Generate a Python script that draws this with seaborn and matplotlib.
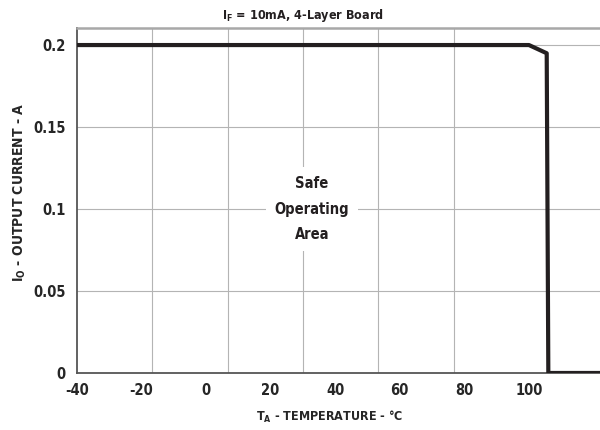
import numpy as np
import pandas as pd
import matplotlib
matplotlib.use('Agg')
import matplotlib.pyplot as plt
import seaborn as sns

# derating curve
temp_c = [-40, 100, 105.5, 106, 122]
current_a = [0.2, 0.2, 0.195, 0.0, 0.0]
x_labels = [-40, -20, 0, 20, 40, 60, 80, 100]
y_ticks = [0, 0.05, 0.1, 0.15, 0.2]
y_labels = ['0', '0.05', '0.1', '0.15', '0.2']

df = pd.DataFrame({'T': temp_c, 'I': current_a})

sns.set_style('white')
plt.rcParams['font.family'] = ['DejaVu Sans']
plt.rcParams['font.stretch'] = 'condensed'
plt.rcParams['font.weight'] = 'bold'

fig = plt.figure(figsize=(6, 4.3), dpi=100)
ax = fig.add_axes([0.128, 0.1326, 0.872, 0.8023])

sns.lineplot(data=df, x='T', y='I', ax=ax, color='#231f20', lw=3, sort=False, zorder=5)

ax.set_xlim(-40, 122)
ax.set_ylim(0, 0.2104)

# labels sit on the true positions, grid lines are spaced differently in the original
ax.set_xticks(x_labels)
ax.set_xticklabels([str(v) for v in x_labels])
ax.set_xticks(np.linspace(-40, 100, 7)[1:], minor=True)
ax.tick_params(axis='x', which='major', length=0, pad=7)
ax.tick_params(axis='x', which='minor', direction='in', length=3, color='#444444', width=1)
ax.set_yticks(y_ticks)
ax.set_yticklabels(y_labels)
ax.tick_params(axis='y', which='major', direction='in', length=4, color='#444444', width=1, pad=8)
ax.tick_params(labelsize=10.5)

ax.grid(True, which='minor', axis='x', color='#b4b4b4', lw=0.8)
ax.grid(True, which='major', axis='y', color='#b4b4b4', lw=0.8)

for side in ['left', 'bottom']:
    ax.spines[side].set_color('#555555')
    ax.spines[side].set_linewidth(1.3)
ax.spines['top'].set_color('#a8a8a8')
ax.spines['top'].set_linewidth(1.8)
ax.spines['right'].set_visible(False)

ax.text(0.432, 1.012, r'I$_\mathbf{F}$ = 10mA, 4-Layer Board', transform=ax.transAxes,
        ha='center', va='bottom', fontsize=9, fontweight='bold', color='#231f20')
ax.set_xlabel(r'T$_\mathbf{A}$ - TEMPERATURE - °C', fontsize=9, fontweight='bold', labelpad=9)
ax.xaxis.set_label_coords(0.484, -0.105)
ax.set_ylabel(r'I$_\mathbf{O}$ - OUTPUT CURRENT - A', fontsize=10, fontweight='bold')
ax.yaxis.set_label_coords(-0.094, 0.525)

ax.text(32.8, 0.1, 'Safe\nOperating\nArea', ha='center', va='center', fontsize=10.5,
        fontweight='bold', color='#231f20', linespacing=1.9, zorder=4,
        bbox=dict(facecolor='white', edgecolor='none', pad=6))

fig.savefig('out.png', dpi=100)
